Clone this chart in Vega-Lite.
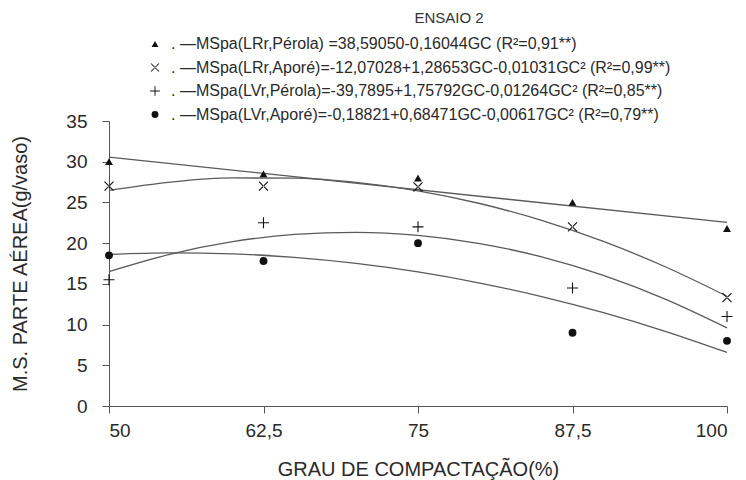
{
  "$schema": "https://vega.github.io/schema/vega-lite/v6.json",
  "width": 618,
  "height": 285,
  "autosize": {"type": "none"},
  "padding": {"left": 109, "top": 121, "right": 19, "bottom": 74},
  "background": "white",
  "title": {"text": "ENSAIO 2", "anchor": "middle", "dx": 31, "offset": 10, "fontSize": 15, "font": "Liberation Sans", "fontWeight": "normal", "color": "#333"},
  "config": {
    "view": {"stroke": null},
    "font": "Liberation Sans",
    "axis": {"grid": false, "domainColor": "#555", "tickColor": "#555", "labelColor": "#2a2a2a", "titleColor": "#2a2a2a", "labelFont": "Liberation Sans", "titleFont": "Liberation Sans", "titleFontWeight": "normal"}
  },
  "datasets": {
    "pts": [
      {"gc": 50, "ms": 30.0, "s": "LRr Pérola"},
      {"gc": 62.5, "ms": 28.5, "s": "LRr Pérola"},
      {"gc": 75, "ms": 28.0, "s": "LRr Pérola"},
      {"gc": 87.5, "ms": 25.0, "s": "LRr Pérola"},
      {"gc": 100, "ms": 21.8, "s": "LRr Pérola"},
      {"gc": 50, "ms": 27.0, "s": "LRr Aporé"},
      {"gc": 62.5, "ms": 27.0, "s": "LRr Aporé"},
      {"gc": 75, "ms": 26.9, "s": "LRr Aporé"},
      {"gc": 87.5, "ms": 22.0, "s": "LRr Aporé"},
      {"gc": 100, "ms": 13.3, "s": "LRr Aporé"},
      {"gc": 50, "ms": 15.5, "s": "LVr Pérola"},
      {"gc": 62.5, "ms": 22.5, "s": "LVr Pérola"},
      {"gc": 75, "ms": 22.0, "s": "LVr Pérola"},
      {"gc": 87.5, "ms": 14.5, "s": "LVr Pérola"},
      {"gc": 100, "ms": 11.0, "s": "LVr Pérola"},
      {"gc": 50, "ms": 18.5, "s": "LVr Aporé"},
      {"gc": 62.5, "ms": 17.8, "s": "LVr Aporé"},
      {"gc": 75, "ms": 20.0, "s": "LVr Aporé"},
      {"gc": 87.5, "ms": 9.0, "s": "LVr Aporé"},
      {"gc": 100, "ms": 8.0, "s": "LVr Aporé"}
    ],
    "fit": [
      {"gc": 50, "ms": 30.568, "c": "a"},
      {"gc": 100, "ms": 22.546, "c": "a"},
      {"gc": 50, "ms": 26.481, "c": "b"},
      {"gc": 55, "ms": 27.501, "c": "b"},
      {"gc": 60, "ms": 28.006, "c": "b"},
      {"gc": 65, "ms": 27.994, "c": "b"},
      {"gc": 70, "ms": 27.468, "c": "b"},
      {"gc": 75, "ms": 26.426, "c": "b"},
      {"gc": 80, "ms": 24.868, "c": "b"},
      {"gc": 85, "ms": 22.795, "c": "b"},
      {"gc": 90, "ms": 20.207, "c": "b"},
      {"gc": 95, "ms": 17.102, "c": "b"},
      {"gc": 100, "ms": 13.483, "c": "b"},
      {"gc": 50, "ms": 16.507, "c": "c"},
      {"gc": 55, "ms": 18.660, "c": "c"},
      {"gc": 60, "ms": 20.182, "c": "c"},
      {"gc": 65, "ms": 21.071, "c": "c"},
      {"gc": 70, "ms": 21.329, "c": "c"},
      {"gc": 75, "ms": 20.954, "c": "c"},
      {"gc": 80, "ms": 19.948, "c": "c"},
      {"gc": 85, "ms": 18.310, "c": "c"},
      {"gc": 90, "ms": 16.039, "c": "c"},
      {"gc": 95, "ms": 13.137, "c": "c"},
      {"gc": 100, "ms": 9.603, "c": "c"},
      {"gc": 50, "ms": 18.622, "c": "d"},
      {"gc": 55, "ms": 18.807, "c": "d"},
      {"gc": 60, "ms": 18.683, "c": "d"},
      {"gc": 65, "ms": 18.250, "c": "d"},
      {"gc": 70, "ms": 17.509, "c": "d"},
      {"gc": 75, "ms": 16.459, "c": "d"},
      {"gc": 80, "ms": 15.101, "c": "d"},
      {"gc": 85, "ms": 13.434, "c": "d"},
      {"gc": 90, "ms": 11.459, "c": "d"},
      {"gc": 95, "ms": 9.175, "c": "d"},
      {"gc": 100, "ms": 6.583, "c": "d"}
    ]
  },
  "layer": [
    {
      "data": {"name": "fit"},
      "mark": {"type": "line", "interpolate": "monotone", "color": "#5a5a5a", "strokeWidth": 1.3},
      "encoding": {
        "x": {"field": "gc", "type": "quantitative", "scale": {"domain": [50, 100], "nice": false}},
        "y": {"field": "ms", "type": "quantitative", "scale": {"domain": [0, 35], "nice": false}},
        "detail": {"field": "c"}
      }
    },
    {
      "data": {"name": "pts"},
      "mark": {"type": "point", "filled": true, "color": "#111", "opacity": 1, "size": 62},
      "encoding": {
        "x": {"field": "gc", "type": "quantitative", "scale": {"domain": [50, 100], "nice": false},
          "axis": {"values": [50, 62.5, 75, 87.5, 100], "labelExpr": "replace(format(datum.value, '.1~f'), '.', ',')", "labelFontSize": 19, "labelPadding": 8, "title": "GRAU DE COMPACTAÇÃO(%)", "titleFontSize": 20, "titlePadding": 19, "tickSize": 7}},
        "y": {"field": "ms", "type": "quantitative", "scale": {"domain": [0, 35], "nice": false},
          "axis": {"values": [0, 5, 10, 15, 20, 25, 30, 35], "labelFontSize": 19, "labelPadding": 15, "title": "M.S. PARTE AÉREA(g/vaso)", "titleFontSize": 20, "titlePadding": 35, "tickSize": 7}},
        "shape": {"field": "s", "type": "nominal",
          "scale": {"domain": ["LRr Pérola", "LRr Aporé", "LVr Pérola", "LVr Aporé"], "range": ["triangle-up", "M-1.05,-1.25L1.25,1.05L1.05,1.25L-1.25,-1.05Z M-1.05,1.25L1.25,-1.05L1.05,-1.25L-1.25,1.05Z", "M-1.4,-0.14L1.4,-0.14L1.4,0.14L-1.4,0.14Z M-0.14,-1.4L0.14,-1.4L0.14,1.4L-0.14,1.4Z", "circle"]},
          "legend": {"orient": "none", "legendX": 38, "legendY": -85, "title": null, "labelFontSize": 16, "labelColor": "#2a2a2a", "labelLimit": 1000, "rowPadding": 7.5, "symbolSize": 48, "symbolFillColor": "#111", "labelOffset": 8,
            "labelExpr": "datum.value == 'LRr Pérola' ? '.  —MSpa(LRr,Pérola) =38,59050-0,16044GC (R²=0,91**)' : datum.value == 'LRr Aporé' ? '.  —MSpa(LRr,Aporé)=-12,07028+1,28653GC-0,01031GC² (R²=0,99**)' : datum.value == 'LVr Pérola' ? '.  —MSpa(LVr,Pérola)=-39,7895+1,75792GC-0,01264GC² (R²=0,85**)' : '.  —MSpa(LVr,Aporé)=-0,18821+0,68471GC-0,00617GC² (R²=0,79**)'"}}
      }
    }
  ]
}
